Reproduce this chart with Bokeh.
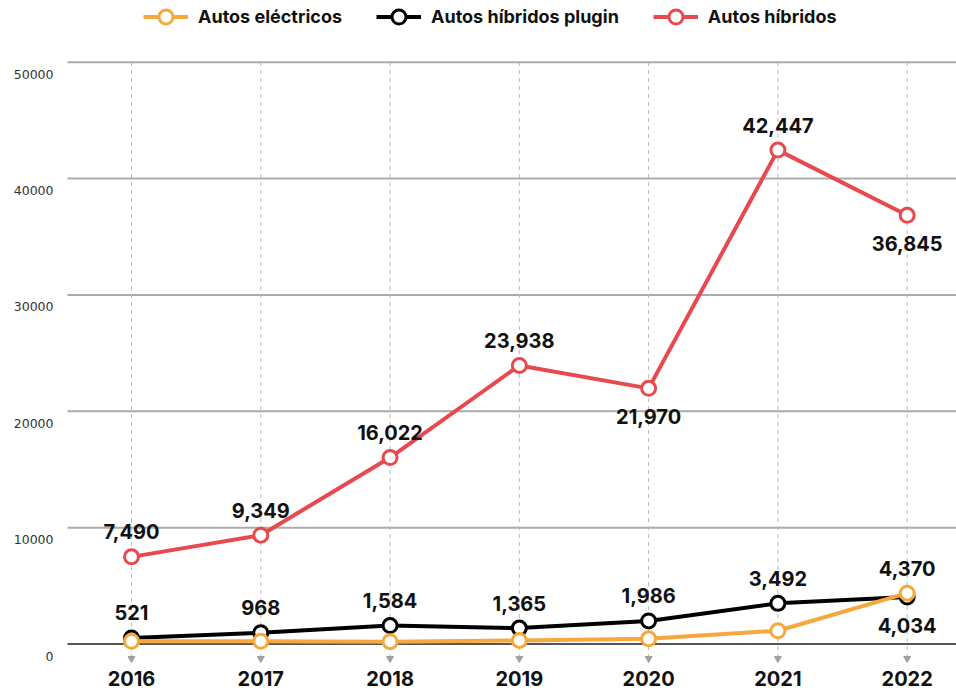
from bokeh.plotting import figure
from bokeh.models import ColumnDataSource, Range1d, LabelSet, Legend, LegendItem
from bokeh.core.properties import value
from bokeh.embed import file_html
from bokeh.resources import INLINE

# ---------------- data ----------------
years = ["2016", "2017", "2018", "2019", "2020", "2021", "2022"]
electricos = [236, 237, 201, 305, 449, 1140, 4370]
plugin = [521, 968, 1584, 1365, 1986, 3492, 4034]
hibridos = [7490, 9349, 16022, 23938, 21970, 42447, 36845]
series_names = ["Autos eléctricos", "Autos híbridos plugin", "Autos híbridos"]
y_ticks = [0, 10000, 20000, 30000, 40000, 50000]
y_tick_labels = ["0", "10000", "20000", "30000", "40000", "50000"]

# which points carry a value label, and on which side
electricos_label_side = [None, None, None, None, None, None, "above"]
plugin_label_side = ["above", "above", "above", "above", "above", "above", "below"]
hibridos_label_side = ["above", "above", "above", "above", "below", "above", "below"]

# ---------------- style / layout ----------------
C_ELEC = "#f6a83c"
C_PLUG = "#000000"
C_HIB = "#e8494f"
ABOVE, BELOW = 25, -28
X_START, X_END = -1.0133, 6.3815      # canvas spans whole window
GRID_X0 = -0.495                      # where the horizontal rules start
TRI_Y = -1246                         # level of the small tick triangles
FONT = value("Inter")

xs = list(range(len(years)))

p = figure(width=956, height=691, output_backend="svg", toolbar_location=None,
           x_range=Range1d(X_START, X_END), y_range=Range1d(-4082, 55303),
           x_axis_type=None, y_axis_type=None, min_border=0,
           min_border_left=0, min_border_right=0, min_border_top=0, min_border_bottom=0,
           outline_line_color=None, background_fill_color="white")

# horizontal rules
n_t = len(y_ticks)
p.segment(x0=[GRID_X0] * (n_t - 1), y0=y_ticks[1:], x1=[X_END] * (n_t - 1), y1=y_ticks[1:],
          line_color="#ababab", line_width=2)

# vertical dashed guides + tick triangles
p.segment(x0=xs, y0=[max(y_ticks)] * len(xs), x1=xs, y1=[TRI_Y] * len(xs),
          line_color="#b8b8b8", line_width=1, line_dash="4 4")
p.scatter(xs, [TRI_Y] * len(xs), marker="inverted_triangle", size=7,
          fill_color="#a0a0a0", line_color="#a0a0a0")

# zero rule (darker)
p.segment(x0=[GRID_X0], y0=[y_ticks[0]], x1=[X_END], y1=[y_ticks[0]],
          line_color="#555555", line_width=2)

renderers = {}
for name, vals, col in [(series_names[2], hibridos, C_HIB),
                        (series_names[1], plugin, C_PLUG),
                        (series_names[0], electricos, C_ELEC)]:
    l = p.line(xs, vals, line_color=col, line_width=4)
    s = p.scatter(xs, vals, size=14, fill_color="white", line_color=col, line_width=3)
    renderers[name] = [l, s]

# value labels
lx, ly, lt, lo = [], [], [], []
for vals, sides in [(hibridos, hibridos_label_side), (plugin, plugin_label_side),
                    (electricos, electricos_label_side)]:
    for i, (v, sd) in enumerate(zip(vals, sides)):
        if sd is None:
            continue
        lx.append(xs[i]); ly.append(v); lt.append(f"{v:,}")
        lo.append(ABOVE if sd == "above" else BELOW)
lab_src = ColumnDataSource(dict(x=lx, y=ly, t=lt, o=lo))
p.add_layout(LabelSet(x="x", y="y", text="t", y_offset="o", source=lab_src,
                      text_align="center", text_baseline="middle",
                      text_font=FONT, text_font_style="bold",
                      text_font_size="20px", text_color="#111111"))

# y tick labels
ysrc = ColumnDataSource(dict(x=[GRID_X0] * n_t, y=y_ticks, t=y_tick_labels))
p.add_layout(LabelSet(x="x", y="y", text="t", source=ysrc, x_offset=-14, y_offset=-12,
                      text_align="right", text_baseline="middle",
                      text_font=value("DejaVu Sans"), text_font_size="12.5px",
                      text_color="#333333"))

# x tick labels
xsrc = ColumnDataSource(dict(x=xs, y=[y_ticks[0]] * len(xs), t=years))
p.add_layout(LabelSet(x="x", y="y", text="t", source=xsrc, y_offset=-34,
                      text_align="center", text_baseline="middle",
                      text_font=FONT, text_font_style="bold",
                      text_font_size="20px", text_color="#111111"))

legend = Legend(items=[LegendItem(label=n, renderers=renderers[n]) for n in series_names],
                location=(143, 657), orientation="horizontal",
                border_line_color=None, background_fill_alpha=0,
                margin=0, padding=0, spacing=34, glyph_width=45, glyph_height=35,
                label_height=35, label_standoff=10,
                label_text_font="Inter", label_text_font_style="bold",
                label_text_font_size="18px", label_text_color="#111111")
p.add_layout(legend)

open("out.html", "w").write(file_html(p, INLINE))
